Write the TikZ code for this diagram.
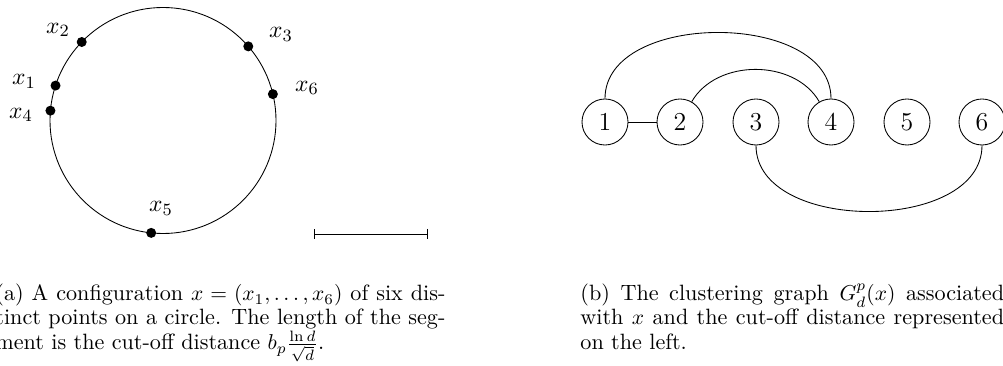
\documentclass[tikz,border=0pt]{standalone}
\usetikzlibrary{arrows.meta,calc}
\begin{document}
\begin{tikzpicture}[x=0.465pt,y=0.465pt,
  dot/.style={circle,fill=black,inner sep=0pt,minimum size=4.65pt},
  lab/.style={inner sep=0pt,font=\fontsize{11}{13}\selectfont},
  gnode/.style={circle,draw,inner sep=0pt,minimum size=21.4pt,font=\fontsize{12}{14}\selectfont},
  capline/.style={anchor=base west,inner sep=0pt,font=\fontsize{10.3}{12}\selectfont},
  scalebar/.style={{Bar[width=4.65pt]}-{Bar[width=4.65pt]}}]
\useasboundingbox (0,0) rectangle (1003,365);
\clip (0,0) rectangle (1003,365);
% (a) circle configuration
\coordinate (c) at (163,244.5);
\draw (c) circle[radius=113];
\node[dot] (p1) at ($(c)+(162:113)$) {};
\node[dot] (p2) at ($(c)+(136:113)$) {};
\node[dot] (p3) at ($(c)+(41:113)$) {};
\node[dot] (p4) at ($(c)+(175:113)$) {};
\node[dot] (p5) at ($(c)+(264:113)$) {};
\node[dot] (p6) at ($(c)+(13.5:113)$) {};
\node[lab] (l1) at (24,283.3) {$x_1$};
\node[lab] (l2) at (58,335) {$x_2$};
\node[lab] (l3) at (281,330.5) {$x_3$};
\node[lab] (l4) at (21,250.3) {$x_4$};
\node[lab] (l5) at (161,156.7) {$x_5$};
\node[lab] (l6) at (307,277) {$x_6$};
% scale bar
\coordinate (b1) at (314,131);
\coordinate (b2) at (428,131);
\draw[scalebar] (b1) -- (b2);
% (b) clustering graph
\node[gnode] (n1) at (605,243) {1};
\node[gnode] (n2) at (680,243) {2};
\node[gnode] (n3) at (756,243) {3};
\node[gnode] (n4) at (831,243) {4};
\node[gnode] (n5) at (907,243) {5};
\node[gnode] (n6) at (982,243) {6};
\draw (n1) -- (n2);
\draw (n1.north) to[out=90,in=90] (n4.north);
\draw (n2.60) to[out=60,in=120] (n4.120);
\draw (n3.south) to[out=-90,in=-90] (n6.south);
% captions
\node[capline] (a1) at (-5,64) {\hbox to 209.25pt{(a) A configuration $x=(x_1,\dots,x_6)$ of six dis-}};
\node[capline] (a2) at (-5,40) {\hbox to 209.25pt{tinct points on a circle. The length of the seg-}};
\node[capline] (a3) at (-5,15) {ment is the cut-off distance $b_p\frac{\ln d}{\sqrt{d}}$.};
\node[capline] (r1) at (580,64) {\hbox to 197pt{(b) The clustering graph $G^p_d(x)$ associated}};
\node[capline] (r2) at (580,40) {\hbox to 197pt{with $x$ and the cut-off distance represented}};
\node[capline] (r3) at (580,15) {on the left.};
\end{tikzpicture}
\end{document}
